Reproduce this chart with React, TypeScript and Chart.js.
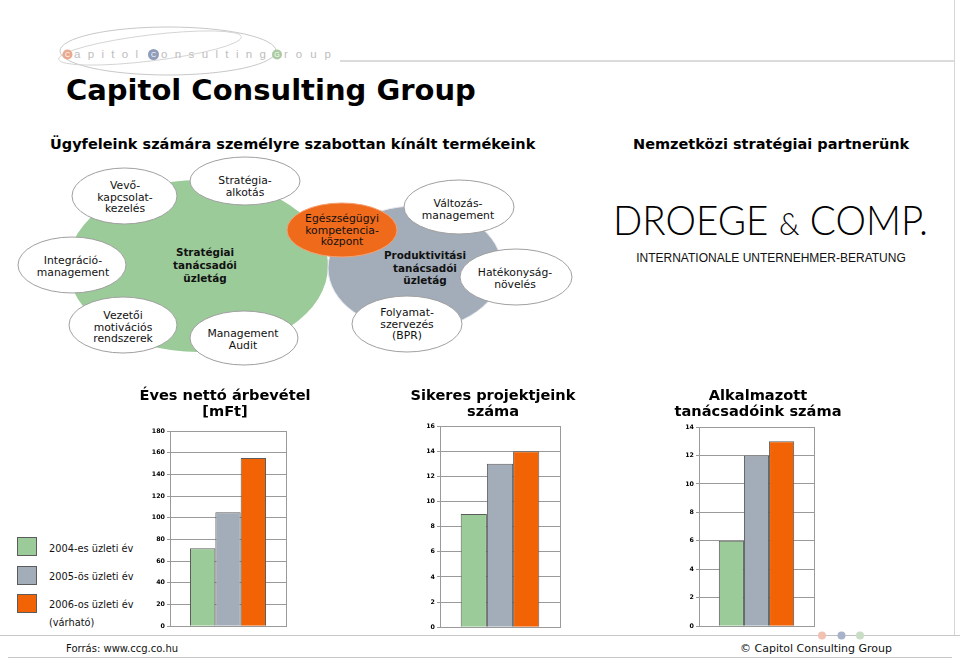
import React, { useEffect, useRef } from "react";
import { Chart, registerables } from "chart.js";

Chart.register(...registerables);

// ---------- data ----------
const YEARS = ["2004-es üzleti év", "2005-ös üzleti év", "2006-os üzleti év"];
const YEAR_NOTE = "(várható)";
const YEAR_COLORS = ["#9ccb9a", "#a3adb9", "#f26305"];

const REVENUE_MFT = [72, 105, 155];
const PROJECTS = [9, 13, 14];
const CONSULTANTS = [6, 12, 13];

const REVENUE_TITLE = ["Éves nettó árbevétel", "[mFt]"];
const PROJECTS_TITLE = ["Sikeres projektjeink", "száma"];
const CONSULTANTS_TITLE = ["Alkalmazott", "tanácsadóink száma"];

const REVENUE_AXIS = { max: 180, step: 20 };
const PROJECTS_AXIS = { max: 16, step: 2 };
const CONSULTANTS_AXIS = { max: 14, step: 2 };

const GRID = "#9a9a9a";
const FONT = "'DejaVu Sans', Verdana, sans-serif";

type ChartProps = {
  title: string[];
  values: number[];
  max: number;
  step: number;
  left: number;
  top: number;
  width: number;
  height: number;
  yw: number;
  rw: number;
  tPadTop: number;
  tPadBottom: number;
};

function BarChart(p: ChartProps) {
  const ref = useRef<HTMLCanvasElement>(null);
  useEffect(() => {
    const chart = new Chart(ref.current as HTMLCanvasElement, {
      type: "bar",
      data: {
        labels: [""],
        datasets: YEARS.map((label, i) => ({
          label,
          data: [p.values[i]],
          backgroundColor: YEAR_COLORS[i],
          borderColor: "#5c5c5c",
          borderWidth: 1,
          barPercentage: 1,
          categoryPercentage: 0.655,
        })),
      },
      options: {
        responsive: false,
        animation: false,
        layout: { padding: { left: 0, right: 0, top: 0, bottom: 5 } },
        plugins: {
          legend: { display: false },
          tooltip: { enabled: false },
          title: {
            display: true,
            text: p.title,
            color: "#000",
            font: { family: FONT, size: 14.6, weight: "bold", lineHeight: 16 / 14.6 },
            padding: { top: p.tPadTop, bottom: p.tPadBottom },
          },
        },
        scales: {
          x: {
            grid: { color: GRID, drawTicks: false, offset: true },
            border: { display: true, color: GRID },
            ticks: { display: false },
          },
          y: {
            position: "left",
            min: 0,
            max: p.max,
            ticks: {
              stepSize: p.step,
              color: "#000",
              font: { family: FONT, size: 6.3, weight: "bold" },
              padding: 2,
            },
            grid: { color: GRID, tickLength: 3 },
            border: { display: true, color: GRID },
            afterFit: (s: any) => {
              s.width = p.yw;
            },
          },
          spacer: {
            type: "linear",
            position: "right",
            display: true,
            grid: { display: false, drawTicks: false },
            border: { display: false },
            ticks: { display: false },
            afterFit: (s: any) => {
              s.width = p.rw;
            },
          },
        },
      } as any,
    });
    return () => chart.destroy();
  }, []);
  return (
    <canvas
      ref={ref}
      width={p.width}
      height={p.height}
      style={{ position: "absolute", left: p.left, top: p.top, width: p.width, height: p.height }}
    />
  );
}

type LabelProps = {
  x: number;
  y: number;
  lines: string[];
  lh: number;
  size: number;
  bold?: boolean;
  fill?: string;
  family?: string;
};

function Label({ x, y, lines, lh, size, bold, fill, family }: LabelProps) {
  return (
    <text
      x={x}
      y={y}
      textAnchor="middle"
      dominantBaseline="central"
      fontFamily={family || FONT}
      fontSize={size}
      fontWeight={bold ? "bold" : "normal"}
      fill={fill || "#111"}
    >
      {lines.map((l, i) => (
        <tspan key={i} x={x} y={y + i * lh}>
          {l}
        </tspan>
      ))}
    </text>
  );
}

const BUBBLE = { fill: "#fff", stroke: "#a0a0a0", strokeWidth: 1 };

export default function App() {
  return (
    <div
      style={{
        position: "absolute",
        left: 0,
        top: 0,
        width: 960,
        height: 658,
        background: "#fff",
        overflow: "hidden",
        fontFamily: FONT,
      }}
    >
      <svg width={960} height={658} style={{ position: "absolute", left: 0, top: 0 }}>
        {/* logo */}
        <ellipse cx={168} cy={51} rx={108} ry={24} fill="none" stroke="#c8c8c8" strokeWidth={1} />
        <ellipse cx={150} cy={48} rx={92} ry={13} fill="none" stroke="#d2d2d2" strokeWidth={0.9} transform="rotate(-7 150 48)" />
        <line x1={340} y1={61} x2={955} y2={61} stroke="#b8b8b8" strokeWidth={1} />
        <line x1={954.5} y1={0} x2={954.5} y2={635} stroke="#d6d6d6" strokeWidth={1} />
        <circle cx={67.5} cy={54.5} r={5} fill="#eaa98f" />
        <circle cx={153.5} cy={54.5} r={5.5} fill="#8f9cba" />
        <circle cx={277} cy={54.5} r={5} fill="#aacaa2" />
        <g fontFamily="'Liberation Sans', Arial, sans-serif" fontSize={7} fill="#fff" textAnchor="middle">
          <text x={67.5} y={57}>C</text>
          <text x={153.5} y={57}>C</text>
          <text x={277} y={57}>G</text>
        </g>
        <g fontFamily="'Liberation Sans', Arial, sans-serif" fontSize={11.5} fill="#bdbdbd">
          <text x={74} y={58} textLength={64} lengthAdjust="spacing">apitol</text>
          <text x={161} y={58} textLength={105} lengthAdjust="spacing">onsulting</text>
          <text x={284} y={58} textLength={47} lengthAdjust="spacing">roup</text>
        </g>

        {/* main title */}
        <text x={66} y={100} fontFamily={FONT} fontWeight="bold" fontSize={29} fill="#000">
          Capitol Consulting Group
        </text>

        {/* section headings */}
        <text x={50} y={149} fontFamily={FONT} fontWeight="bold" fontSize={14.5} fill="#000">
          Ügyfeleink számára személyre szabottan kínált termékeink
        </text>
        <text x={633} y={149} fontFamily={FONT} fontWeight="bold" fontSize={14.5} fill="#000">
          Nemzetközi stratégiai partnerünk
        </text>

        {/* diagram */}
        <ellipse cx={198} cy={266} rx={130} ry={86} fill="#9ccb9a" />
        <ellipse cx={415} cy={268} rx={87} ry={62} fill="#a3adb9" stroke="#e6e9ee" strokeWidth={1} />

        <ellipse cx={124.5} cy={196} rx={52.5} ry={28} {...BUBBLE} />
        <ellipse cx={245} cy={181} rx={55} ry={24} {...BUBBLE} />
        <ellipse cx={72} cy={265} rx={54} ry={28} {...BUBBLE} />
        <ellipse cx={123} cy={325} rx={54} ry={28} {...BUBBLE} />
        <ellipse cx={244} cy={338} rx={54} ry={27} {...BUBBLE} />
        <ellipse cx={459} cy={207} rx={55} ry={27} {...BUBBLE} />
        <ellipse cx={516} cy={277} rx={56} ry={28} {...BUBBLE} />
        <ellipse cx={407} cy={324} rx={55} ry={28} {...BUBBLE} />
        <ellipse cx={342} cy={230} rx={55} ry={27} fill="#f06a1c" stroke="#f4a071" strokeWidth={1} />

        <Label x={125} y={185} lines={["Vevő-", "kapcsolat-", "kezelés"]} lh={11.7} size={10.8} />
        <Label x={245} y={180} lines={["Stratégia-", "alkotás"]} lh={11.7} size={10.8} />
        <Label x={73} y={260} lines={["Integráció-", "management"]} lh={11.7} size={10.8} />
        <Label x={123} y={315} lines={["Vezetői", "motivációs", "rendszerek"]} lh={11.7} size={10.8} />
        <Label x={243} y={333} lines={["Management", "Audit"]} lh={11.7} size={10.8} />
        <Label x={205} y={252} lines={["Stratégiai", "tanácsadói", "üzletág"]} lh={13} size={10.4} bold />
        <Label x={342} y={218} lines={["Egészségügyi", "kompetencia-", "központ"]} lh={11.7} size={10.8} />
        <Label x={458} y={203} lines={["Változás-", "management"]} lh={11.5} size={10.8} />
        <Label x={425} y={255} lines={["Produktivitási", "tanácsadói", "üzletág"]} lh={12.5} size={10.4} bold />
        <Label x={515} y={272} lines={["Hatékonyság-", "növelés"]} lh={11.5} size={10.8} />
        <Label x={407} y={312} lines={["Folyamat-", "szervezés", "(BPR)"]} lh={11.7} size={10.8} />

        {/* partner logo */}
        <text x={613} y={235} fontFamily="Lato, 'Open Sans', sans-serif" fontWeight={300} fontSize={42} fill="#000" textLength={315} lengthAdjust="spacingAndGlyphs">
          DROEGE <tspan fontSize={32}>&amp;</tspan> COMP.
        </text>
        <text x={771} y={262} textAnchor="middle" fontFamily="'Liberation Sans', Arial, sans-serif" fontSize={12} fill="#111">
          INTERNATIONALE UNTERNEHMER-BERATUNG
        </text>

        {/* legend */}
        {YEARS.map((_, i) => (
          <rect
            key={i}
            x={17.5}
            y={[537.5, 566.5, 594.5][i]}
            width={19}
            height={18}
            fill={YEAR_COLORS[i]}
            stroke="#5c5c5c"
            strokeWidth={1}
          />
        ))}
        <g fontFamily={FONT} fontSize={9.8} fill="#111">
          <text x={49} y={548} dominantBaseline="central">{YEARS[0]}</text>
          <text x={49} y={576} dominantBaseline="central">{YEARS[1]}</text>
          <text x={49} y={604} dominantBaseline="central">{YEARS[2]}</text>
          <text x={49} y={622} dominantBaseline="central">{YEAR_NOTE}</text>
        </g>

        {/* footer */}
        <line x1={0} y1={635.5} x2={960} y2={635.5} stroke="#c8c8c8" strokeWidth={1} />
        <line x1={8} y1={657.5} x2={952} y2={657.5} stroke="#c8c8c8" strokeWidth={1} />
        <line x1={822} y1={635.5} x2={860} y2={635.5} stroke="#c0c0c0" strokeWidth={1} />
        <circle cx={822} cy={635.5} r={4} fill="#f1c2b1" />
        <circle cx={841.5} cy={635.5} r={4} fill="#a8b2c8" />
        <circle cx={860} cy={635.5} r={4} fill="#c9dcc4" />
        <text x={66} y={648} dominantBaseline="central" fontFamily={FONT} fontSize={10} fill="#111">
          Forrás: www.ccg.co.hu
        </text>
        <text x={740} y={648} dominantBaseline="central" fontFamily={FONT} fontSize={11} fill="#111">
          © Capitol Consulting Group
        </text>
      </svg>

      <BarChart
        title={REVENUE_TITLE}
        values={REVENUE_MFT}
        max={REVENUE_AXIS.max}
        step={REVENUE_AXIS.step}
        left={130}
        top={380}
        width={190}
        height={252}
        yw={40}
        rw={34}
        tPadTop={8.5}
        tPadBottom={10.5}
      />
      <BarChart
        title={PROJECTS_TITLE}
        values={PROJECTS}
        max={PROJECTS_AXIS.max}
        step={PROJECTS_AXIS.step}
        left={400}
        top={380}
        width={186}
        height={253}
        yw={40}
        rw={26}
        tPadTop={8.5}
        tPadBottom={5.5}
      />
      <BarChart
        title={CONSULTANTS_TITLE}
        values={CONSULTANTS}
        max={CONSULTANTS_AXIS.max}
        step={CONSULTANTS_AXIS.step}
        left={665}
        top={380}
        width={186}
        height={252}
        yw={34}
        rw={37}
        tPadTop={8.5}
        tPadBottom={6.5}
      />
    </div>
  );
}
